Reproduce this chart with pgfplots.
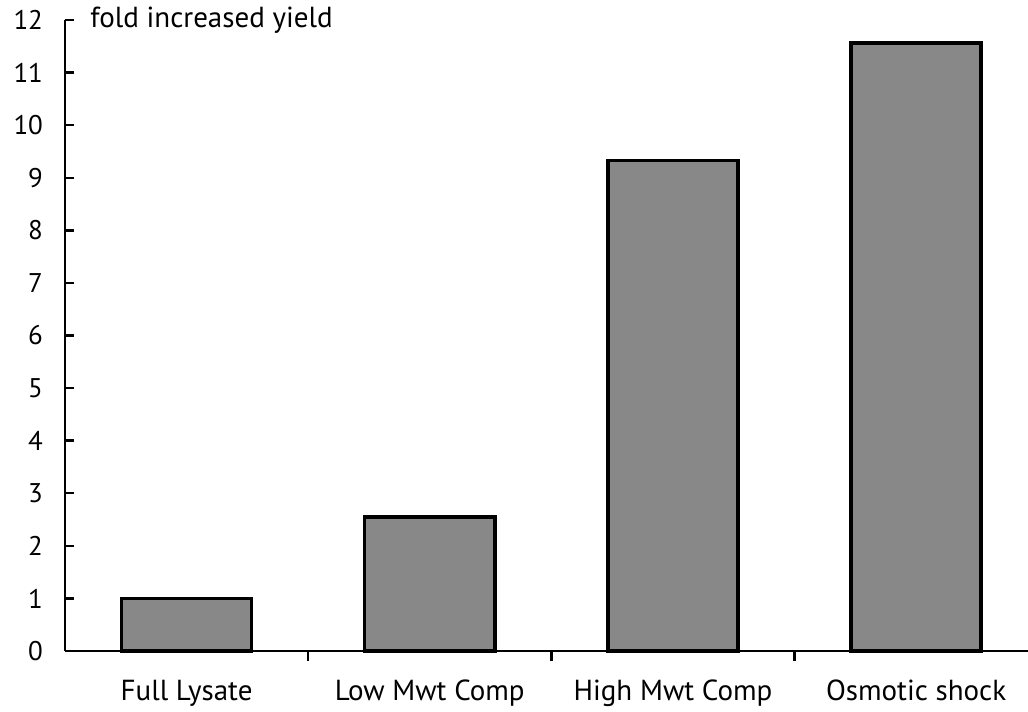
\documentclass[border=0pt]{standalone}
\usepackage{fontspec}
\setmainfont{PT Sans}
\usepackage{pgfplots}
\pgfplotsset{compat=1.18}
\definecolor{barfill}{RGB}{136,136,136}
\begin{document}
\begin{tikzpicture}
\fontsize{14.5}{17}\selectfont
\begin{axis}[
  at={(0,0)}, anchor=south west,
  scale only axis,
  width=481.5pt, height=315.5pt,
  xmin=-0.5, xmax=3.46,
  ymin=0, ymax=12,
  axis x line=bottom, axis y line=left,
  axis line style={line width=1.2pt, -},
  xtick={0,1,2,3},
  xticklabels={Full Lysate, Low Mwt Comp, High Mwt Comp, Osmotic shock},
  minor xtick={0.5,1.5,2.5},
  major x tick style={draw=none},
  minor x tick style={line width=1.2pt, black},
  minor tick length=5pt,
  ytick={0,1,...,12},
  y tick style={line width=1.2pt, black},
  major tick length=4.5pt,
  tick align=inside,
  /pgf/number format/assume math mode=true,
  yticklabel style={font=\fontsize{13.5}{16}\selectfont, xshift=-6pt},
  xticklabel style={font=\fontsize{14.5}{17}\selectfont, yshift=-5pt},
  ybar, bar width=0.535,
  clip=false,
]
\addplot[fill=barfill, draw=black, line width=1.7pt] coordinates {
  (0,1.0) (1,2.55) (2,9.33) (3,11.56)
};
\node[anchor=west, inner sep=0pt] at (axis cs:-0.5,12) [xshift=12.5pt] {fold increased yield};
\end{axis}
\pgfresetboundingbox
\path (-32.5pt,-30.5pt) rectangle (481.5pt,325.5pt);
\end{tikzpicture}
\end{document}
